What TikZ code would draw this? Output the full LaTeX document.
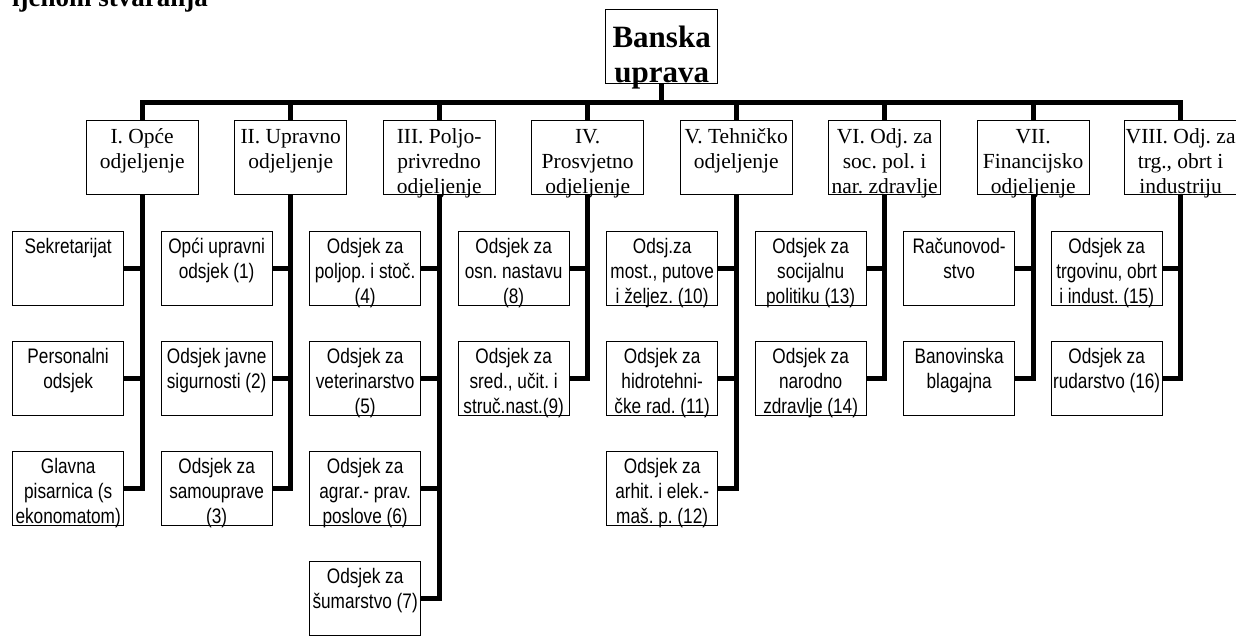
\documentclass[tikz,border=0pt]{standalone}
\usepackage{fontspec}
\newfontfamily\serifF{Liberation Serif}
\newfontfamily\sansN[FakeStretch=0.82]{Liberation Sans}
\frenchspacing
\newcommand\boxline[1]{\hbox to\hsize{\hss\rule[-5pt]{0pt}{21pt}#1\hss}}
\newcommand\cbx[1]{\parbox[t][74pt][t]{111pt}{\frenchspacing\sansN\fontsize{21}{25}\selectfont\vskip5.7pt #1}}
\newcommand\tbx[1]{\parbox[t][74pt][t]{112pt}{\frenchspacing\serifF\fontsize{21.5}{25}\selectfont\vskip6.6pt #1}}
\newcommand\bbx[1]{\parbox[t][74pt][t]{112pt}{\frenchspacing\serifF\bfseries\fontsize{31}{35}\selectfont\vskip16.2pt #1}}
\tikzset{
  boxn/.style={draw, line width=1.3pt, inner sep=0pt, anchor=north west},
  conn/.style={line width=5pt, line join=miter}
}
\begin{document}
\begin{tikzpicture}[x=1pt,y=-1pt]
\useasboundingbox (0,0) rectangle (1236,635);
\node[anchor=base west, inner sep=0pt, font=\serifF\bfseries\fontsize{27}{30}\selectfont] (hdr) at (12,6) {ljenom stvaranja};
% head
\node[boxn] (ban) at (605,9) {\bbx{\boxline{Banska}\boxline{uprava}}};
% departments
\node[boxn] (d1) at (85.5,120) {\tbx{\boxline{I. Opće}\boxline{odjeljenje}}};
\node[boxn] (d2) at (234,120) {\tbx{\boxline{II. Upravno}\boxline{odjeljenje}}};
\node[boxn] (d3) at (382.5,120) {\tbx{\boxline{III. Poljo-}\boxline{privredno}\boxline{odjeljenje}}};
\node[boxn] (d4) at (531,120) {\tbx{\boxline{IV.}\boxline{Prosvjetno}\boxline{odjeljenje}}};
\node[boxn] (d5) at (679.5,120) {\tbx{\boxline{V. Tehničko}\boxline{odjeljenje}}};
\node[boxn] (d6) at (828,120) {\tbx{\boxline{VI. Odj. za}\boxline{soc. pol. i}\boxline{nar. zdravlje}}};
\node[boxn] (d7) at (976.5,120) {\tbx{\boxline{VII.}\boxline{Financijsko}\boxline{odjeljenje}}};
\node[boxn] (d8) at (1124,120) {\tbx{\boxline{VIII. Odj. za}\boxline{trg., obrt i}\boxline{industriju}}};
% I
\node[boxn] (c11) at (12,231) {\cbx{\boxline{Sekretarijat}}};
\node[boxn] (c12) at (12,341) {\cbx{\boxline{Personalni}\boxline{odsjek}}};
\node[boxn] (c13) at (12,451) {\cbx{\boxline{Glavna}\boxline{pisarnica (s}\boxline{ekonomatom)}}};
% II
\node[boxn] (c21) at (160.5,231) {\cbx{\boxline{Opći upravni}\boxline{odsjek (1)}}};
\node[boxn] (c22) at (160.5,341) {\cbx{\boxline{Odsjek javne}\boxline{sigurnosti (2)}}};
\node[boxn] (c23) at (160.5,451) {\cbx{\boxline{Odsjek za}\boxline{samouprave}\boxline{(3)}}};
% III
\node[boxn] (c31) at (309,231) {\cbx{\boxline{Odsjek za}\boxline{poljop. i stoč.}\boxline{(4)}}};
\node[boxn] (c32) at (309,341) {\cbx{\boxline{Odsjek za}\boxline{veterinarstvo}\boxline{(5)}}};
\node[boxn] (c33) at (309,451) {\cbx{\boxline{Odsjek za}\boxline{agrar.- prav.}\boxline{poslove (6)}}};
\node[boxn] (c34) at (309,561) {\cbx{\boxline{Odsjek za}\boxline{šumarstvo (7)}}};
% IV
\node[boxn] (c41) at (457.5,231) {\cbx{\boxline{Odsjek za}\boxline{osn. nastavu}\boxline{(8)}}};
\node[boxn] (c42) at (457.5,341) {\cbx{\boxline{Odsjek za}\boxline{sred., učit. i}\boxline{struč.nast.(9)}}};
% V
\node[boxn] (c51) at (606,231) {\cbx{\boxline{Odsj.za}\boxline{most., putove}\boxline{i željez. (10)}}};
\node[boxn] (c52) at (606,341) {\cbx{\boxline{Odsjek za}\boxline{hidrotehni-}\boxline{čke rad. (11)}}};
\node[boxn] (c53) at (606,451) {\cbx{\boxline{Odsjek za}\boxline{arhit. i elek.-}\boxline{maš. p. (12)}}};
% VI
\node[boxn] (c61) at (754.5,231) {\cbx{\boxline{Odsjek za}\boxline{socijalnu}\boxline{politiku (13)}}};
\node[boxn] (c62) at (754.5,341) {\cbx{\boxline{Odsjek za}\boxline{narodno}\boxline{zdravlje (14)}}};
% VII
\node[boxn] (c71) at (903,231) {\cbx{\boxline{Računovod-}\boxline{stvo}}};
\node[boxn] (c72) at (903,341) {\cbx{\boxline{Banovinska}\boxline{blagajna}}};
% VIII
\node[boxn] (c81) at (1050.5,231) {\cbx{\boxline{Odsjek za}\boxline{trgovinu, obrt}\boxline{i indust. (15)}}};
\node[boxn] (c82) at (1050.5,341) {\cbx{\boxline{Odsjek za}\boxline{rudarstvo (16)}}};
% connectors: top
\coordinate (barY) at (0,102);
\draw[conn] (d1.north) -- (d1.north |- barY) -- (d8.north |- barY) -- (d8.north);
\draw[conn] (ban.south) -- (ban.south |- barY);
\foreach \d in {d2,d3,d4,d5,d6,d7}{
  \draw[conn] (\d.north |- barY) -- (\d.north);
}
% connectors: columns
\draw[conn] (d1.south) |- (c13.east);
\draw[conn] (c11.east) -- (c11.east -| d1.south);
\draw[conn] (c12.east) -- (c12.east -| d1.south);
\draw[conn] (d2.south) |- (c23.east);
\draw[conn] (c21.east) -- (c21.east -| d2.south);
\draw[conn] (c22.east) -- (c22.east -| d2.south);
\draw[conn] (d3.south) |- (c34.east);
\draw[conn] (c31.east) -- (c31.east -| d3.south);
\draw[conn] (c32.east) -- (c32.east -| d3.south);
\draw[conn] (c33.east) -- (c33.east -| d3.south);
\draw[conn] (d4.south) |- (c42.east);
\draw[conn] (c41.east) -- (c41.east -| d4.south);
\draw[conn] (d5.south) |- (c53.east);
\draw[conn] (c51.east) -- (c51.east -| d5.south);
\draw[conn] (c52.east) -- (c52.east -| d5.south);
\draw[conn] (d6.south) |- (c62.east);
\draw[conn] (c61.east) -- (c61.east -| d6.south);
\draw[conn] (d7.south) |- (c72.east);
\draw[conn] (c71.east) -- (c71.east -| d7.south);
\draw[conn] (d8.south) |- (c82.east);
\draw[conn] (c81.east) -- (c81.east -| d8.south);
\end{tikzpicture}
\end{document}
